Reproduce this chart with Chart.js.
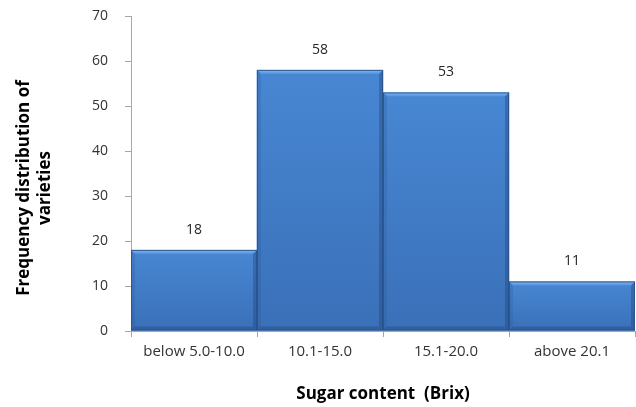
<!DOCTYPE html>
<html>
<head>
<meta charset="utf-8">
<title>Sugar content frequency</title>
<script src="https://cdn.jsdelivr.net/npm/chart.js@4.4.1/dist/chart.umd.min.js"></script>
<style>
  html, body { margin: 0; padding: 0; background: #fff; }
  #wrap { width: 636px; height: 407px; position: relative; }
</style>
</head>
<body>
<div id="wrap"><canvas id="brixChart"></canvas></div>
<script>
// Brix classes and number of varieties in each
const classes = ['below 5.0-10.0', '10.1-15.0', '15.1-20.0', 'above 20.1'];
const varieties = [18, 58, 53, 11];
const yTicks = [0, 10, 20, 30, 40, 50, 60, 70];
const yTitle = ['Frequency distribution of', 'varieties'];
const xTitle = 'Sugar content  (Brix)';

const FONT = '"Open Sans", "Noto Sans", sans-serif';

// bar body: light blue at the top fading to a deeper blue at the base
function barFill(context) {
  const chart = context.chart;
  if (!chart.chartArea || context.dataIndex === undefined) return '#3f79c2';
  const yScale = chart.scales.y;
  const top = yScale.getPixelForValue(varieties[context.dataIndex]);
  const base = yScale.getPixelForValue(0);
  const g = chart.ctx.createLinearGradient(0, top, 0, base);
  g.addColorStop(0, '#4887d3');
  g.addColorStop(1, '#3a70b8');
  return g;
}

// bevelled edges on each bar, drawn from the element geometry
const bevel = {
  id: 'bevel',
  afterDatasetsDraw(chart) {
    const ctx = chart.ctx;
    const d = 4;
    chart.getDatasetMeta(0).data.forEach(bar => {
      const l = bar.x - bar.width / 2, r = bar.x + bar.width / 2;
      const t = bar.y, b = bar.base;
      ctx.save();
      // top highlight
      let g = ctx.createLinearGradient(0, t, 0, t + d);
      g.addColorStop(0, '#80b6f0');
      g.addColorStop(1, '#5192dc');
      ctx.fillStyle = g;
      ctx.beginPath();
      ctx.moveTo(l, t); ctx.lineTo(r, t); ctx.lineTo(r - d, t + d); ctx.lineTo(l + d, t + d);
      ctx.closePath(); ctx.fill();
      // left side
      ctx.fillStyle = 'rgba(40,80,140,0.22)';
      ctx.beginPath();
      ctx.moveTo(l, t); ctx.lineTo(l + d, t + d); ctx.lineTo(l + d, b - d); ctx.lineTo(l, b);
      ctx.closePath(); ctx.fill();
      // right side
      ctx.fillStyle = 'rgba(30,60,110,0.35)';
      ctx.beginPath();
      ctx.moveTo(r, t); ctx.lineTo(r - d, t + d); ctx.lineTo(r - d, b - d); ctx.lineTo(r, b);
      ctx.closePath(); ctx.fill();
      // bottom shade
      ctx.fillStyle = 'rgba(25,55,100,0.3)';
      ctx.beginPath();
      ctx.moveTo(l, b); ctx.lineTo(l + d, b - d); ctx.lineTo(r - d, b - d); ctx.lineTo(r, b);
      ctx.closePath(); ctx.fill();
      // outline
      ctx.strokeStyle = 'rgba(40,80,135,0.8)';
      ctx.lineWidth = 1;
      ctx.strokeRect(l + 0.5, t + 0.5, r - l - 1, b - t - 1);
      ctx.restore();
    });
  }
};

// value printed above each bar
const valueLabels = {
  id: 'valueLabels',
  afterDatasetsDraw(chart) {
    const ctx = chart.ctx;
    ctx.save();
    ctx.font = '14px ' + FONT;
    ctx.fillStyle = '#262626';
    ctx.textAlign = 'center';
    ctx.textBaseline = 'middle';
    chart.getDatasetMeta(0).data.forEach((bar, i) => {
      ctx.fillText(String(varieties[i]), bar.x, bar.y - 20);
    });
    ctx.restore();
  }
};

// two-line rotated title for the y axis
const yAxisTitle = {
  id: 'yAxisTitle',
  afterDraw(chart) {
    const ctx = chart.ctx;
    ctx.save();
    ctx.font = 'bold 17px ' + FONT;
    ctx.fillStyle = '#000';
    ctx.textAlign = 'center';
    ctx.textBaseline = 'middle';
    ctx.translate(24, 188);
    ctx.rotate(-Math.PI / 2);
    yTitle.forEach((line, i) => ctx.fillText(line, 0, i * 21));
    ctx.restore();
  }
};

new Chart(document.getElementById('brixChart'), {
  type: 'bar',
  data: {
    labels: classes,
    datasets: [{
      data: varieties,
      backgroundColor: barFill,
      borderWidth: 0,
      barPercentage: 1.0,
      categoryPercentage: 1.0
    }]
  },
  options: {
    responsive: true,
    maintainAspectRatio: false,
    animation: false,
    layout: { padding: { top: 16, right: 1, left: 0, bottom: 0 } },
    plugins: {
      legend: { display: false },
      tooltip: { enabled: false }
    },
    scales: {
      x: {
        offset: true,
        afterFit: s => { s.height = 76; },
        grid: {
          offset: true,
          drawOnChartArea: false,
          tickLength: 6,
          color: '#a6a6a6'
        },
        border: { color: '#a6a6a6' },
        ticks: {
          color: '#333',
          padding: 6,
          maxRotation: 0,
          font: { family: FONT, size: 15 }
        },
        title: {
          display: true,
          text: xTitle,
          color: '#000',
          font: { family: FONT, size: 17, weight: 'bold' },
          padding: { top: 0, bottom: 3 }
        }
      },
      y: {
        min: 0,
        max: 70,
        afterFit: s => {
          s.width = 131;
          // keep the wide label gap from pushing the plot area down
          s.paddingTop = 8;
          s.paddingBottom = 8;
        },
        afterBuildTicks: s => { s.ticks = yTicks.map(v => ({ value: v })); },
        grid: {
          drawOnChartArea: false,
          tickLength: 6,
          color: '#a6a6a6'
        },
        border: { color: '#a6a6a6' },
        ticks: {
          color: '#333',
          padding: 17,
          font: { family: FONT, size: 14 }
        }
      }
    }
  },
  plugins: [bevel, valueLabels, yAxisTitle]
});
</script>
</body>
</html>
